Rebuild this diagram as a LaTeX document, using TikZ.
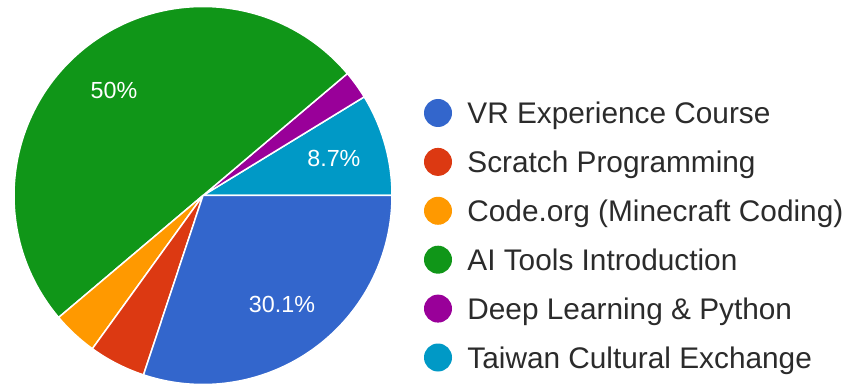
\documentclass[tikz,border=0pt]{standalone}
\usepackage{fontspec}
\setmainfont{Liberation Sans}
\usetikzlibrary{positioning,calc}

\definecolor{vrblue}{HTML}{3366CC}
\definecolor{scratchred}{HTML}{DC3912}
\definecolor{codeorange}{HTML}{FF9900}
\definecolor{aigreen}{HTML}{109618}
\definecolor{deeppurple}{HTML}{990099}
\definecolor{taiwancyan}{HTML}{0099C6}
\definecolor{legendtext}{HTML}{2B2B2B}

\tikzset{
	slice/.style={draw=white, line width=1.5pt, line join=round},
	pctlabel/.style={text=white, font=\fontsize{23.3}{28}\selectfont, inner sep=0pt},
	legdot/.style={circle, minimum size=28pt, inner sep=0pt},
	legtext/.style={text=legendtext, font=\fontsize{29.8}{36}\selectfont, inner sep=0pt, text height=21.3pt, text depth=0pt}
}

\begin{document}
\begin{tikzpicture}[x=1pt, y=1pt]

		\useasboundingbox (0,0) rectangle (852,386);

		\coordinate (C) at (203,190.5);

		% slices, counter-clockwise from the right
		\fill[taiwancyan, slice] (C) -- ++(0:189) arc[start angle=0, end angle=31.46, radius=189] -- cycle;
		\fill[deeppurple, slice] (C) -- ++(31.46:189) arc[start angle=31.46, end angle=40.19, radius=189] -- cycle;
		\fill[aigreen, slice] (C) -- ++(40.19:189) arc[start angle=40.19, end angle=220.19, radius=189] -- cycle;
		\fill[codeorange, slice] (C) -- ++(220.19:189) arc[start angle=220.19, end angle=234.17, radius=189] -- cycle;
		\fill[scratchred, slice] (C) -- ++(234.17:189) arc[start angle=234.17, end angle=251.65, radius=189] -- cycle;
		\fill[vrblue, slice] (C) -- ++(251.65:189) arc[start angle=251.65, end angle=360, radius=189] -- cycle;

		\node[pctlabel] (p50) at ($(C)+(130.19:138)$) {50\%};
		\node[pctlabel] (p87) at ($(C)+(15.73:136)$) {8.7\%};
		\node[pctlabel] (p301) at ($(C)+(305.83:135)$) {30.1\%};

		% legend
		\coordinate (L1) at (438,273);

		\node[legdot, fill=vrblue] (d1) at (L1) {};
		\node[legdot, fill=scratchred, below=20.5pt of d1] (d2) {};
		\node[legdot, fill=codeorange, below=20.5pt of d2] (d3) {};
		\node[legdot, fill=aigreen, below=20.5pt of d3] (d4) {};
		\node[legdot, fill=deeppurple, below=20.5pt of d4] (d5) {};
		\node[legdot, fill=taiwancyan, below=20.5pt of d5] (d6) {};

		\node[legtext, right=15pt of d1] (t1) {VR Experience Course};
		\node[legtext, right=15pt of d2] (t2) {Scratch Programming};
		\node[legtext, right=15pt of d3] (t3) {Code.org (Minecraft Coding)};
		\node[legtext, right=15pt of d4] (t4) {AI Tools Introduction};
		\node[legtext, right=15pt of d5] (t5) {Deep Learning \& Python};
		\node[legtext, right=15pt of d6] (t6) {Taiwan Cultural Exchange};

\end{tikzpicture}
\end{document}
